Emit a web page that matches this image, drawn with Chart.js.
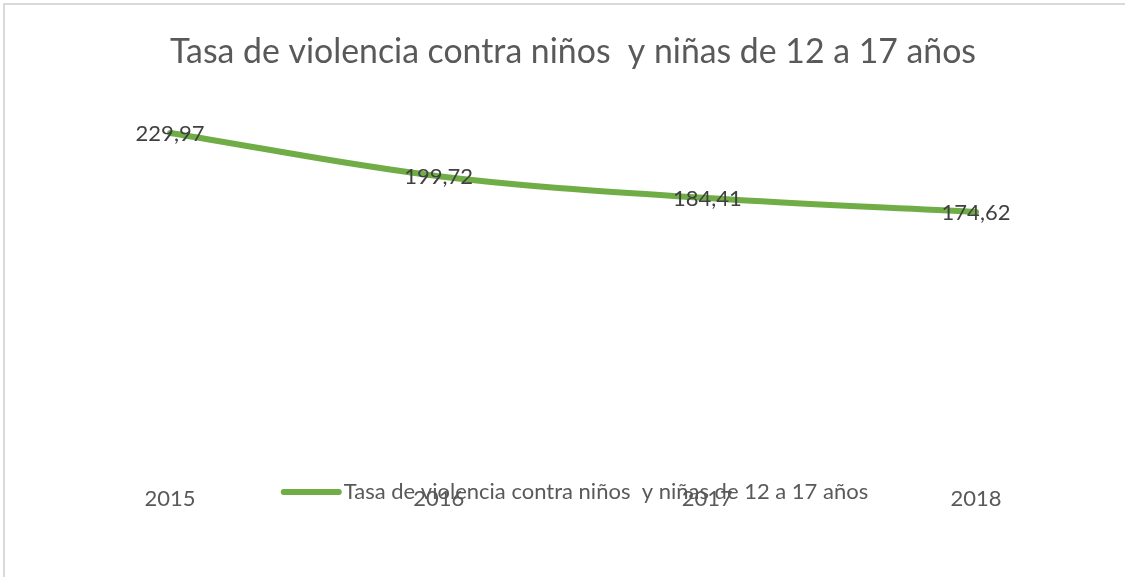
<!DOCTYPE html>
<html>
<head>
<meta charset="utf-8">
<script src="https://cdn.jsdelivr.net/npm/chart.js@4.4.1/dist/chart.umd.min.js"></script>
<style>
  html, body { margin: 0; padding: 0; background: #ffffff; }
  #wrap { position: relative; width: 1125px; height: 586px; }
</style>
</head>
<body>
<div id="wrap"><canvas id="violence-chart"></canvas></div>
<script>
const chartTitle = 'Tasa de violencia contra niños  y niñas de 12 a 17 años';
const seriesLabel = 'Tasa de violencia contra niños  y niñas de 12 a 17 años';
const years = ['2015', '2016', '2017', '2018'];
const rates = [229.97, 199.72, 184.41, 174.62];

const FONT = 'Lato';
const lineColor = '#70AD47';

// marco gris claro (solo arriba y a la izquierda, como en la imagen)
const frame = {
  id: 'frame',
  beforeDraw(chart) {
    const ctx = chart.ctx;
    ctx.save();
    ctx.strokeStyle = '#d9d9d9';
    ctx.lineWidth = 2;
    ctx.beginPath();
    ctx.moveTo(4, 577);
    ctx.lineTo(4, 4);
    ctx.lineTo(1125, 4);
    ctx.stroke();
    ctx.restore();
  }
};

// etiquetas de datos centradas sobre cada punto
const dataLabels = {
  id: 'dataLabels',
  afterDatasetsDraw(chart) {
    const ctx = chart.ctx;
    const meta = chart.getDatasetMeta(0);
    ctx.save();
    ctx.font = `22px ${FONT}`;
    ctx.fillStyle = '#404040';
    ctx.textAlign = 'center';
    ctx.textBaseline = 'middle';
    meta.data.forEach((pt, i) => {
      const txt = rates[i].toFixed(2).replace('.', ',');
      ctx.fillText(txt, pt.x, pt.y + 1);
    });
    ctx.restore();
  }
};

// leyenda dibujada encima de las etiquetas del eje (se solapan en el original)
const overlapLegend = {
  id: 'overlapLegend',
  afterDraw(chart) {
    const ctx = chart.ctx;
    const label = chart.data.datasets[0].label;
    ctx.save();
    ctx.font = `22px ${FONT}`;
    const textW = ctx.measureText(label).width;
    const total = 55 + 5 + textW;
    const x0 = 576 - total / 2;
    const y = 492;
    ctx.strokeStyle = lineColor;
    ctx.lineWidth = 6;
    ctx.lineCap = 'round';
    ctx.beginPath();
    ctx.moveTo(x0, y);
    ctx.lineTo(x0 + 55, y);
    ctx.stroke();
    ctx.fillStyle = '#595959';
    ctx.textAlign = 'left';
    ctx.textBaseline = 'middle';
    ctx.fillText(label, x0 + 60, y);
    ctx.restore();
  }
};

const ctx = document.getElementById('violence-chart').getContext('2d');

new Chart(ctx, {
  type: 'line',
  data: {
    labels: years,
    datasets: [{
      label: seriesLabel,
      data: rates,
      borderColor: lineColor,
      backgroundColor: lineColor,
      borderWidth: 6,
      borderCapStyle: 'round',
      tension: 0.35,
      pointRadius: 0,
      fill: false
    }]
  },
  options: {
    responsive: true,
    maintainAspectRatio: false,
    animation: false,
    layout: {
      padding: { left: 170, right: 149, top: 0, bottom: 50 }
    },
    plugins: {
      legend: { display: false },
      tooltip: { enabled: false },
      title: {
        display: true,
        text: chartTitle,
        color: '#595959',
        font: { family: FONT, size: 35, weight: 'normal' },
        padding: { top: 31, bottom: 27 }
      }
    },
    scales: {
      x: {
        offset: false,
        grid: { display: false, drawTicks: false },
        border: { display: false },
        ticks: {
          color: '#595959',
          padding: 24,
          font: { family: FONT, size: 22 }
        }
      },
      y: {
        display: false,
        min: 0,
        max: 253
      }
    }
  },
  plugins: [frame, dataLabels, overlapLegend]
});
</script>
</body>
</html>
